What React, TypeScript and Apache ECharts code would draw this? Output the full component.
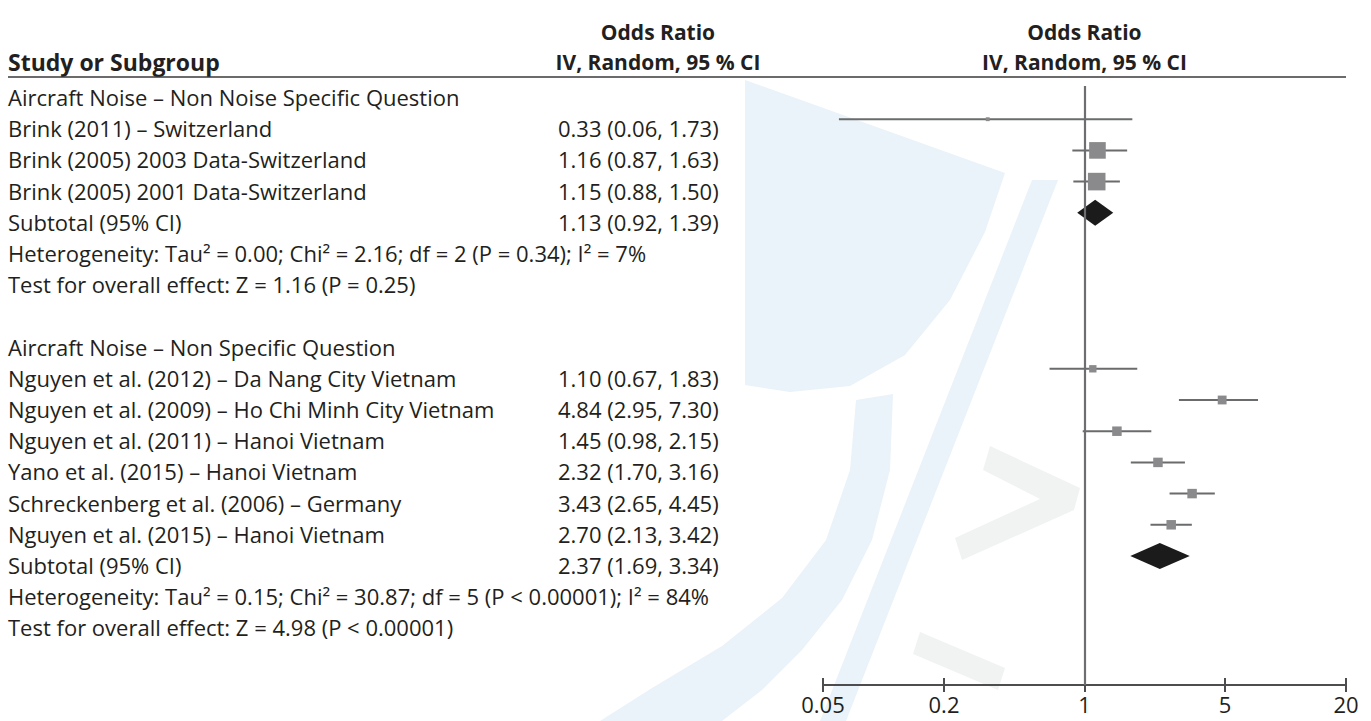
import React, { useEffect, useRef } from "react";
import * as echarts from "echarts";

// ---------- data ----------
const group1Title = "Aircraft Noise – Non Noise Specific Question";
const group1Studies = [
  "Brink (2011) – Switzerland",
  "Brink (2005) 2003 Data-Switzerland",
  "Brink (2005) 2001 Data-Switzerland",
];
const group1OR = [0.33, 1.16, 1.15];
const group1Lower = [0.06, 0.87, 0.88];
const group1Upper = [1.73, 1.63, 1.5];
const group1Weight = [2.5, 46, 51.5];
const group1Subtotal = [1.13, 0.92, 1.39];
const group1Heterogeneity =
  "Heterogeneity: Tau² = 0.00; Chi² = 2.16; df = 2 (P = 0.34); I² = 7%";
const group1Overall = "Test for overall effect: Z = 1.16 (P = 0.25)";

const group2Title = "Aircraft Noise – Non Specific Question";
const group2Studies = [
  "Nguyen et al. (2012) – Da Nang City Vietnam",
  "Nguyen et al. (2009) – Ho Chi Minh City Vietnam",
  "Nguyen et al. (2011) – Hanoi Vietnam",
  "Yano et al. (2015) – Hanoi Vietnam",
  "Schreckenberg et al. (2006) – Germany",
  "Nguyen et al. (2015) – Hanoi Vietnam",
];
const group2OR = [1.1, 4.84, 1.45, 2.32, 3.43, 2.7];
const group2Lower = [0.67, 2.95, 0.98, 1.7, 2.65, 2.13];
const group2Upper = [1.83, 7.3, 2.15, 3.16, 4.45, 3.42];
const group2Weight = [9, 13, 15, 15, 15, 15];
const group2Subtotal = [2.37, 1.69, 3.34];
const group2Heterogeneity =
  "Heterogeneity: Tau² = 0.15; Chi² = 30.87; df = 5 (P < 0.00001); I² = 84%";
const group2Overall = "Test for overall effect: Z = 4.98 (P < 0.00001)";

const subtotalLabel = "Subtotal (95% CI)";
const headerStudy = "Study or Subgroup";
const headerOR = "Odds Ratio";
const headerMethod = "IV, Random, 95 % CI";

const tickValues = [0.05, 0.2, 1, 5, 20];
const tickLabels = ["0.05", "0.2", "1", "5", "20"];

// ---------- layout ----------
const W = 1371;
const H = 721;
const ROW0 = 97; // text rows
const PLOT_ROW0 = 88; // plot rows sit slightly higher than the text rows
const ROWH = 31.2;
const RULE_Y = 77;
const VLINE_TOP = 86;
const AXIS_Y = 685;
const PLOT_L = 823;
const PLOT_R = 1346;
const EST_X = 550;
const FONT = "'Open Sans', Lato, sans-serif";
const TEXT_COLOR = "#231f20";
const BODY_SIZE = 22;
const WATERMARK_BLUE = "#eaf3f9";
const WATERMARK_GRAY = "#f1f2f2";

type Row = {
  label: string;
  est?: string;
  kind: "title" | "study" | "total" | "note" | "blank";
  or?: number;
  lo?: number;
  hi?: number;
  w?: number;
};

const fmt = (v: number) => v.toFixed(2);
const estText = (o: number, l: number, h: number) => `${fmt(o)} (${fmt(l)}, ${fmt(h)})`;

function buildGroup(
  title: string,
  studies: string[],
  ors: number[],
  los: number[],
  his: number[],
  ws: number[],
  sub: number[],
  het: string,
  overall: string
): Row[] {
  const rows: Row[] = [{ label: title, kind: "title" }];
  studies.forEach((s, i) =>
    rows.push({
      label: s,
      est: estText(ors[i], los[i], his[i]),
      kind: "study",
      or: ors[i],
      lo: los[i],
      hi: his[i],
      w: ws[i],
    })
  );
  rows.push({
    label: subtotalLabel,
    est: estText(sub[0], sub[1], sub[2]),
    kind: "total",
    or: sub[0],
    lo: sub[1],
    hi: sub[2],
  });
  rows.push({ label: het, kind: "note" });
  rows.push({ label: overall, kind: "note" });
  return rows;
}

const rows: Row[] = [
  ...buildGroup(group1Title, group1Studies, group1OR, group1Lower, group1Upper, group1Weight, group1Subtotal, group1Heterogeneity, group1Overall),
  { label: "", kind: "blank" },
  ...buildGroup(group2Title, group2Studies, group2OR, group2Lower, group2Upper, group2Weight, group2Subtotal, group2Heterogeneity, group2Overall),
];

const lg = (v: number) => Math.log10(v);

function buildOption(): any {
  const yMin0 = (RULE_Y - ROW0) / ROWH;
  const yMax0 = (AXIS_Y - ROW0) / ROWH;
  const yMin1 = (VLINE_TOP - PLOT_ROW0) / ROWH;
  const yMax1 = (AXIS_Y - PLOT_ROW0) / ROWH;

  const textData = rows.map((r, i) => [0, i]);
  const studyRows = rows.map((r, i) => ({ r, i })).filter((d) => d.r.kind === "study");
  const totalRows = rows.map((r, i) => ({ r, i })).filter((d) => d.r.kind === "total");

  const studyData = studyRows.map((d) => [lg(d.r.lo!), lg(d.r.hi!), lg(d.r.or!), d.i, d.r.w!]);
  const totalData = totalRows.map((d) => [lg(d.r.lo!), lg(d.r.hi!), lg(d.r.or!), d.i]);

  const xMin = lg(tickValues[0]);
  const xMax = lg(tickValues[tickValues.length - 1]);
  const tickLog = tickValues.map(lg);

  const labelFor = (v: number) => {
    let best = 0;
    tickLog.forEach((t, k) => {
      if (Math.abs(t - v) < Math.abs(tickLog[best] - v)) best = k;
    });
    return tickLabels[best];
  };

  const textEl = (text: string, x: number, y: number) => ({
    type: "text",
    x,
    y,
    style: {
      text,
      fill: TEXT_COLOR,
      fontSize: BODY_SIZE,
      fontFamily: FONT,
      textAlign: "left",
      textVerticalAlign: "middle",
      align: "left",
      verticalAlign: "middle",
    },
  });

  const headerText = (text: string, x: number, y: number, align: string, size: number) => ({
    type: "text",
    style: {
      text,
      x,
      y,
      fill: TEXT_COLOR,
      fontSize: size,
      fontWeight: "bold",
      fontFamily: FONT,
      textAlign: align,
      textVerticalAlign: "middle",
    },
  });

  const wmPoly = (points: number[][], fill: string) => ({
    type: "polygon",
    z: -10,
    silent: true,
    shape: { points },
    style: { fill },
  });

  // faint publisher watermark behind the plot (approximate)
  const watermark = [
    wmPoly(
      [
        [745, 80],
        [1005, 173],
        [985, 232],
        [950, 300],
        [905, 355],
        [850, 386],
        [790, 392],
        [745, 385],
      ],
      WATERMARK_BLUE
    ),
    wmPoly(
      [
        [893, 394],
        [890, 470],
        [872, 540],
        [842, 600],
        [802, 650],
        [762, 690],
        [722, 721],
        [600, 721],
        [652, 688],
        [722, 646],
        [782, 598],
        [826, 540],
        [850, 470],
        [856, 400],
      ],
      WATERMARK_BLUE
    ),
    wmPoly(
      [
        [1032, 180],
        [1058, 180],
        [846, 721],
        [820, 721],
      ],
      WATERMARK_BLUE
    ),
    wmPoly(
      [
        [990, 446],
        [1080, 488],
        [1074, 510],
        [962, 560],
        [955, 538],
        [1040, 499],
        [983, 470],
      ],
      WATERMARK_GRAY
    ),
    wmPoly(
      [
        [920, 632],
        [1005, 668],
        [998, 690],
        [913, 654],
      ],
      WATERMARK_GRAY
    ),
  ];

  return {
    animation: false,
    backgroundColor: "#ffffff",
    grid: [
      { left: 8, width: 800, top: RULE_Y, bottom: H - AXIS_Y },
      { left: PLOT_L, right: W - PLOT_R, top: VLINE_TOP, bottom: H - AXIS_Y },
    ],
    xAxis: [
      { type: "value", gridIndex: 0, min: 0, max: 800, show: false },
      {
        type: "value",
        gridIndex: 1,
        min: xMin,
        max: xMax,
        position: "bottom",
        axisLine: { show: true, onZero: false, lineStyle: { color: "#4d4d4f", width: 2 } },
        axisTick: {
          show: true,
          customValues: tickLog,
          length: 7,
          lineStyle: { color: "#4d4d4f", width: 2 },
        },
        axisLabel: {
          show: true,
          customValues: tickLog,
          formatter: (v: number) => labelFor(v),
          fontSize: 22,
          fontFamily: FONT,
          color: TEXT_COLOR,
          margin: 8,
        },
        splitLine: { show: false },
      },
      {
        type: "value",
        gridIndex: 1,
        min: xMin,
        max: xMax,
        position: "bottom",
        axisLine: { show: false, onZero: false },
        axisTick: {
          show: true,
          inside: true,
          customValues: tickLog,
          length: 7,
          lineStyle: { color: "#4d4d4f", width: 2 },
        },
        axisLabel: { show: false },
        splitLine: { show: false },
      },
    ],
    yAxis: [
      { type: "value", gridIndex: 0, min: yMin0, max: yMax0, inverse: true, show: false },
      { type: "value", gridIndex: 1, min: yMin1, max: yMax1, inverse: true, show: false },
    ],
    graphic: [
      ...watermark,
      headerText(headerStudy, 8, 62, "left", 23),
      ...[658, (PLOT_L + PLOT_R) / 2].flatMap((cx) => [
        headerText(headerOR, cx, 32, "center", 21),
        headerText(headerMethod, cx, 62, "center", 21),
      ]),
      {
        type: "line",
        shape: { x1: 8, y1: RULE_Y, x2: PLOT_R, y2: RULE_Y },
        style: { stroke: "#3a3a3a", lineWidth: 1.6 },
      },
    ],
    series: [
      {
        type: "custom",
        name: "texts",
        xAxisIndex: 0,
        yAxisIndex: 0,
        data: textData,
        silent: true,
        renderItem: (params: any, api: any) => {
          const r = rows[params.dataIndex];
          const p = api.coord([0, api.value(1)]);
          const children: any[] = [];
          if (r.label) children.push(textEl(r.label, p[0], p[1]));
          if (r.est) {
            const q = api.coord([EST_X, api.value(1)]);
            children.push(textEl(r.est, q[0], q[1]));
          }
          return { type: "group", children };
        },
      },
      {
        type: "custom",
        name: "studies",
        xAxisIndex: 1,
        yAxisIndex: 1,
        data: studyData,
        silent: true,
        renderItem: (params: any, api: any) => {
          const y = api.value(3);
          const a = api.coord([api.value(0), y]);
          const b = api.coord([api.value(1), y]);
          const c = api.coord([api.value(2), y]);
          const s = Math.sqrt(api.value(4)) * 2.45;
          return {
            type: "group",
            children: [
              {
                type: "line",
                shape: { x1: a[0], y1: a[1], x2: b[0], y2: b[1] },
                style: { stroke: "#6a6b6d", lineWidth: 2 },
              },
              {
                type: "rect",
                shape: { x: c[0] - s / 2, y: c[1] - s / 2, width: s, height: s },
                style: { fill: "#8a8a8c" },
              },
            ],
          };
        },
        markLine: {
          silent: true,
          symbol: "none",
          label: { show: false },
          lineStyle: { color: "#6d6e71", width: 2.2, type: "solid" },
          data: [{ xAxis: 0 }],
        },
      },
      {
        type: "custom",
        name: "subtotals",
        xAxisIndex: 1,
        yAxisIndex: 1,
        data: totalData,
        silent: true,
        renderItem: (params: any, api: any) => {
          const y = api.value(3);
          const a = api.coord([api.value(0), y]);
          const b = api.coord([api.value(1), y]);
          const c = api.coord([api.value(2), y]);
          const h = 13;
          return {
            type: "polygon",
            shape: {
              points: [
                [a[0], a[1]],
                [c[0], c[1] - h],
                [b[0], b[1]],
                [c[0], c[1] + h],
              ],
            },
            style: { fill: "#1b1b1b" },
          };
        },
      },
    ],
  };
}

export default function App() {
  const ref = useRef<HTMLDivElement>(null);
  useEffect(() => {
    if (!ref.current) return;
    const chart = echarts.init(ref.current, undefined, { renderer: "svg" });
    chart.setOption(buildOption());
    return () => chart.dispose();
  }, []);
  return (
    <div
      ref={ref}
      style={{ position: "fixed", left: 0, top: 0, width: W, height: H, background: "#fff" }}
    />
  );
}
